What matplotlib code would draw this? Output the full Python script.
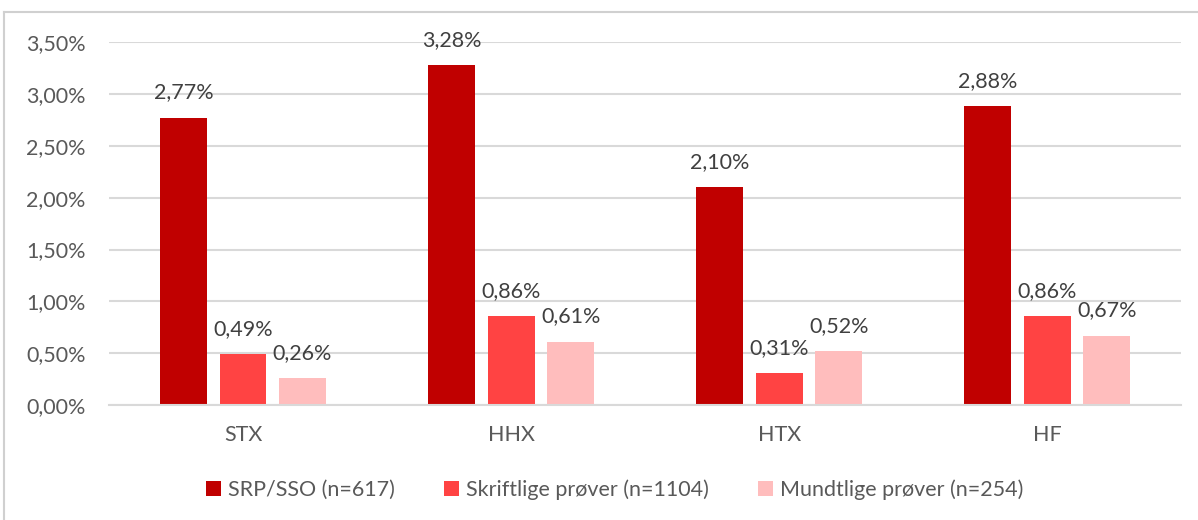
import numpy as np
import matplotlib.pyplot as plt
from matplotlib.lines import Line2D

categories = ['STX', 'HHX', 'HTX', 'HF']
series_names = ['SRP/SSO (n=617)', 'Skriftlige prøver (n=1104)', 'Mundtlige prøver (n=254)']
srp = [2.77, 3.28, 2.10, 2.88]
skriftlig = [0.49, 0.86, 0.31, 0.86]
mundtlig = [0.26, 0.61, 0.52, 0.67]
yticks = [0.0, 0.5, 1.0, 1.5, 2.0, 2.5, 3.0, 3.5]

colors = ['#C00000', '#FF4343', '#FFBDBD']
text_col = '#595959'
grid_col = '#D9D9D9'

plt.rcParams['font.family'] = ['Lato', 'DejaVu Sans']
fs = 15.5

fig = plt.figure(figsize=(11.98, 5.2), dpi=100)
ax = fig.add_axes([0.091, 0.221, 0.895, 0.698])

x = np.arange(len(categories))
width = 0.175
step = 0.222
for i, (vals, name) in enumerate(zip([srp, skriftlig, mundtlig], series_names)):
    pos = x + (i - 1) * step
    bars = ax.bar(pos, vals, width, color=colors[i], label=name, zorder=3)
    for b, v in zip(bars, vals):
        ax.annotate(f'{v:.2f}%'.replace('.', ','), (b.get_x() + b.get_width() / 2, v),
                    xytext=(0, 11), textcoords='offset points', ha='center', va='bottom',
                    fontsize=fs, color='#404040')

ax.set_xlim(-0.5, len(categories) - 0.5)
ax.set_ylim(0, 3.5)
ax.set_yticks(yticks)
ax.set_yticklabels([f'{t:.2f}%'.replace('.', ',') for t in yticks], fontsize=fs, color=text_col)
ax.set_xticks(x)
ax.set_xticklabels(categories, fontsize=fs, color=text_col)
ax.tick_params(axis='both', length=0)
ax.tick_params(axis='x', pad=14)
ax.tick_params(axis='y', pad=17)
ax.grid(axis='y', color=grid_col, linewidth=1.5, zorder=0)
for s in ['left', 'right', 'top']:
    ax.spines[s].set_visible(False)
ax.spines['bottom'].set_color(grid_col)
ax.spines['bottom'].set_linewidth(1.5)
ax.spines['bottom'].set_zorder(4)

leg = fig.legend(loc='center', bbox_to_anchor=(0.513, 0.058), ncol=3, frameon=False,
                 fontsize=fs, handlelength=0.7, handleheight=0.7, handletextpad=0.3,
                 columnspacing=2.3)
for t in leg.get_texts():
    t.set_color(text_col)

# chart border (Excel chart area)
fig.add_artist(Line2D([0.0035, 0.0035], [0, 0.976], color='#D0D0D0', linewidth=1.5))
fig.add_artist(Line2D([0.0035, 1.0], [0.976, 0.976], color='#D0D0D0', linewidth=1.5))

fig.savefig('out.png', dpi=100)
